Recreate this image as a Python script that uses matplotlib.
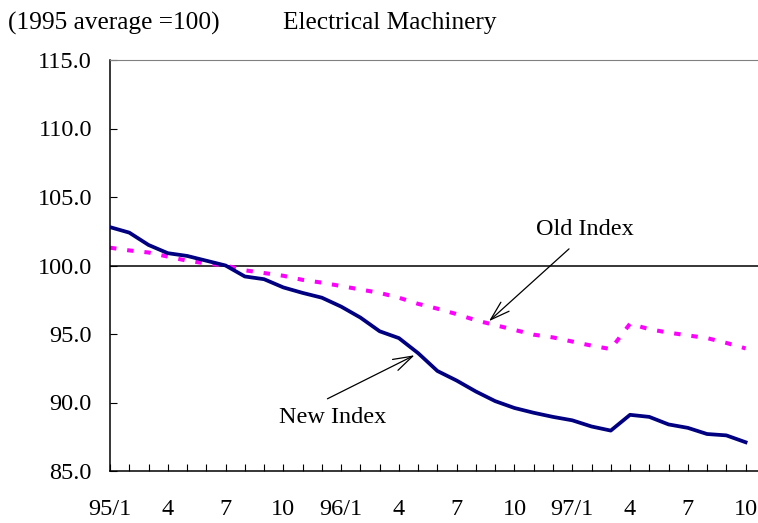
import matplotlib
matplotlib.use("Agg")
import matplotlib.pyplot as plt
import numpy as np

plt.rcParams.update({
    "font.family": ["Liberation Serif", "DejaVu Serif"],
    "font.size": 17.5,
})

# tick labels every 3 months, 95/1 .. 97/10
TICK_LABELS = ["95/1", "4", "7", "10", "96/1", "4", "7", "10", "97/1", "4", "7", "10"]

# monthly values, 95/1 .. 97/10 (1995 average = 100)
NEW_INDEX = [102.8, 102.4, 101.5, 100.9, 100.7, 100.35, 100.0, 99.2, 99.0, 98.4,
             98.0, 97.65, 97.0, 96.2, 95.2, 94.7, 93.6, 92.3, 91.6, 90.8,
             90.1, 89.6, 89.25, 88.95, 88.7, 88.25, 87.95, 89.1, 88.95, 88.4,
             88.15, 87.7, 87.6, 87.1]
OLD_INDEX = [101.3, 101.1, 100.95, 100.65, 100.35, 100.15, 100.0, 99.65, 99.45, 99.25,
             98.95, 98.75, 98.5, 98.25, 98.0, 97.65, 97.2, 96.85, 96.45, 96.0,
             95.65, 95.3, 94.95, 94.75, 94.45, 94.15, 93.9, 95.75, 95.35, 95.1,
             94.9, 94.7, 94.35, 93.95]

NAVY = "#000080"
MAGENTA = "#FF00FF"


def main():
    fig = plt.figure(figsize=(7.58, 5.23), dpi=100)
    ax = fig.add_axes([110 / 758, 52 / 523, 648 / 758, 411 / 523])

    x = np.arange(len(NEW_INDEX))
    ax.axhline(100, color="black", linewidth=1.1, zorder=1)
    ax.plot(x, OLD_INDEX, color=MAGENTA, linewidth=2.9,
            linestyle=(0, (1.6, 2.7)), zorder=2)
    ax.plot(x, NEW_INDEX, color=NAVY, linewidth=2.7, zorder=3)

    # labels with arrows
    arrow = dict(arrowstyle="->,head_length=0.8,head_width=0.25", color="black", lw=0.9)
    ax.annotate("", xy=(19.57, 95.8), xytext=(23.94, 101.35), arrowprops=arrow)
    ax.text(24.66, 102.66, "Old Index", ha="center", va="center")
    ax.annotate("", xy=(15.94, 93.54), xytext=(11.16, 90.18), arrowprops=arrow)
    ax.text(11.58, 88.87, "New Index", ha="center", va="center")

    ax.set_xlim(0, 648 / 19.26)
    ax.set_ylim(85, 115)
    ax.set_yticks(np.arange(85, 116, 5))
    ax.set_yticklabels([f"{v:.1f}" for v in np.arange(85, 116, 5)])
    ax.set_xticks(np.arange(0, len(NEW_INDEX), 3))
    ax.set_xticklabels(TICK_LABELS)
    ax.set_xticks(x, minor=True)

    ax.tick_params(axis="y", direction="in", length=5, width=0.8, pad=13)
    ax.tick_params(axis="x", which="both", direction="in", length=5, width=0.8, pad=20)

    ax.spines["top"].set_color("#808080")
    ax.spines["right"].set_visible(False)
    for s in ("left", "bottom"):
        ax.spines[s].set_color("black")
        ax.spines[s].set_linewidth(1.1)

    fig.text(8 / 758, 1 - 23 / 523, "(1995 average =100)", ha="left", va="center",
             fontsize=18.3)
    fig.text(283 / 758, 1 - 23 / 523, "Electrical Machinery", ha="left", va="center",
             fontsize=18.3)

    fig.savefig("out.png", dpi=100)
    plt.close(fig)


if __name__ == "__main__":
    main()
